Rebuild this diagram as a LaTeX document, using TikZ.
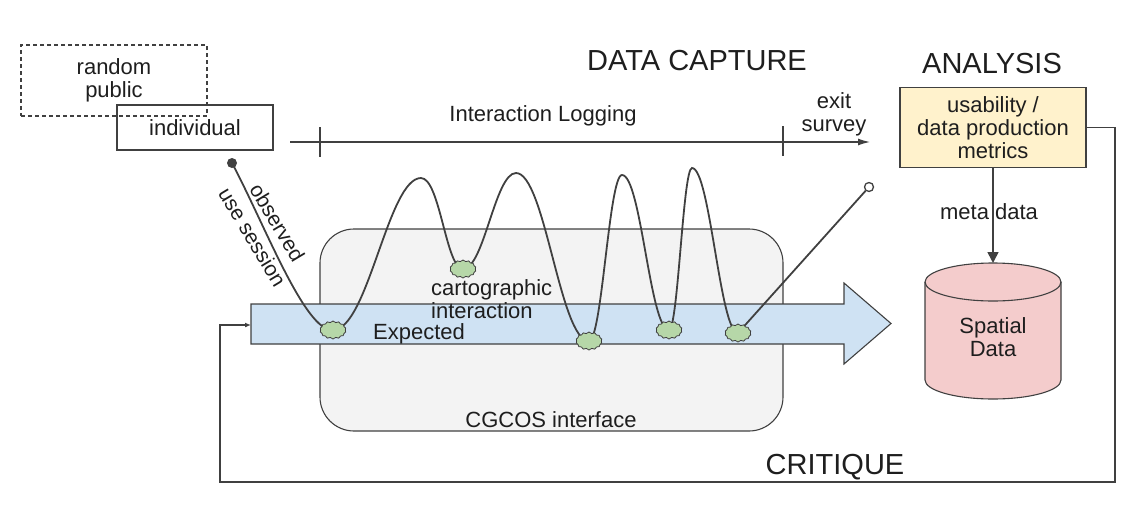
\documentclass[tikz,border=0pt]{standalone}
\usepackage{fontspec}
\setmainfont{Liberation Sans}
\usetikzlibrary{arrows.meta,shapes.symbols}
\definecolor{cgray}{HTML}{F3F3F3}
\definecolor{cblue}{HTML}{CFE2F3}
\definecolor{cyellow}{HTML}{FFF2CC}
\definecolor{cpink}{HTML}{F4CCCC}
\definecolor{cgreen}{HTML}{B6D7A8}
\definecolor{cline}{HTML}{404040}
\definecolor{ctext}{HTML}{1E1E1E}
\begin{document}
\begin{tikzpicture}[x=1pt,y=-1pt,
  txt/.style={font=\fontsize{22}{23}\selectfont, text=ctext, align=center, inner sep=0pt},
  headtxt/.style={font=\fontsize{29}{30}\selectfont, text=ctext, inner sep=0pt},
  boxed/.style={draw=cline, line width=1.1pt, inner sep=0pt, txt},
  blob/.style={cloud, cloud puffs=14, cloud puff arc=120, draw=cline, line width=0.8pt, fill=cgreen, minimum width=26pt, minimum height=18pt, inner sep=0pt},
  conn/.style={draw=cline, line width=1.2pt},
  sess/.style={draw=cline, line width=1.8pt}
]
\useasboundingbox (0,0) rectangle (1133,517);

% headings
\node[headtxt] (hcap) at (697,61) {DATA CAPTURE};
\node[headtxt] (hana) at (992,64) {ANALYSIS};
\node[headtxt] (hcrit) at (835,467) {CRITIQUE};

% participant boxes
\node[boxed, dash pattern=on 4pt off 3pt, minimum width=186pt, minimum height=71pt] (public) at (114,80.5) {random\\public};
\node[boxed, minimum width=156pt, minimum height=45pt] (ind) at (195,127.5) {individual};

% interaction logging timeline
\coordinate (logS) at (290,142);
\coordinate (logE) at (870,142);
\draw[conn, -{Latex[length=12pt,width=7pt]}] (logS) -- (logE);
\draw[conn] (320,127) -- (320,157);
\draw[conn] (783,126) -- (783,156);
\node[txt] (logtxt) at (543,116) {Interaction Logging};
\node[txt] (exit) at (834,114) {exit\\survey};

% CGCOS interface
\node[draw=cline, line width=1.1pt, fill=cgray, rounded corners=34pt, minimum width=463pt, minimum height=202pt, inner sep=0pt] (cgcos) at (551.5,330) {};
\node[txt] (cgtext) at (551,420) {CGCOS interface};

% expected path arrow
\draw[draw=cline, line width=1.1pt, fill=cblue] (251,304) -- (844,304) -- (844,283) -- (891,323.5) -- (844,364) -- (844,344) -- (251,344) -- cycle;
\coordinate (expin) at (251,325);
\node[txt, anchor=west] (expected) at (373,334) {Expected};
\node[txt, align=left, anchor=west] (carto) at (431,299) {cartographic\\interaction};

% observed use session
\coordinate (b1) at (333,330);
\coordinate (p1) at (421,178);
\coordinate (b2) at (463,269);
\coordinate (p2) at (516,173);
\coordinate (b3) at (589,341);
\coordinate (p3) at (622,175);
\coordinate (b4) at (669,330);
\coordinate (p4) at (692,168);
\coordinate (b5) at (738,333);
\node[circle, fill=cline, minimum size=10pt, inner sep=0pt] (start) at (232,163) {};
\node[circle, draw=cline, fill=white, line width=1.3pt, minimum size=9pt, inner sep=0pt] (stop) at (869,187) {};
\draw[sess] (start.center) .. controls (265,225) and (305,332) .. (b1)
  .. controls (368,330) and (388,178) .. (p1)
  .. controls (440,178) and (446,269) .. (b2)
  .. controls (484,269) and (495,173) .. (p2)
  .. controls (545,173) and (560,341) .. (b3)
  .. controls (602,341) and (609,175) .. (p3)
  .. controls (641,175) and (650,330) .. (b4)
  .. controls (678,330) and (683,168) .. (p4)
  .. controls (710,168) and (720,333) .. (b5);
\draw[sess] (b5) -- (stop);
\node[txt, rotate=-59, font=\fontsize{21}{23}\selectfont] (obs) at (265,230) {observed\\[6pt]use session};
\node[blob] (k1) at (b1) {};
\node[blob] (k2) at (b2) {};
\node[blob] (k3) at (b3) {};
\node[blob] (k4) at (b4) {};
\node[blob] (k5) at (b5) {};

% analysis
\node[boxed, fill=cyellow, minimum width=186pt, minimum height=80pt] (metrics) at (993,127.5) {usability /\\data production\\metrics};
\draw[draw=cline, line width=1.1pt, fill=cpink] (925,282) -- (925,380) arc[start angle=180, end angle=360, x radius=68pt, y radius=19pt] -- (1061,282) arc[start angle=0, end angle=180, x radius=68pt, y radius=19pt] -- cycle;
\draw[draw=cline, line width=1.1pt] (925,282) arc[start angle=180, end angle=360, x radius=68pt, y radius=19pt];
\coordinate (dbtop) at (993,263);
\node[txt] (db) at (993,337) {Spatial\\Data};
\draw[conn, line width=1.6pt, -{Triangle[length=11pt,width=11pt]}] (metrics.south) -- (dbtop);
\node[txt] (meta) at (989,212) {meta data};

% critique loop
\draw[conn, -{Latex[length=6pt,width=5pt]}] (metrics.east) -| (1115,482) -| (220,325) -- (expin);
\end{tikzpicture}
\end{document}
